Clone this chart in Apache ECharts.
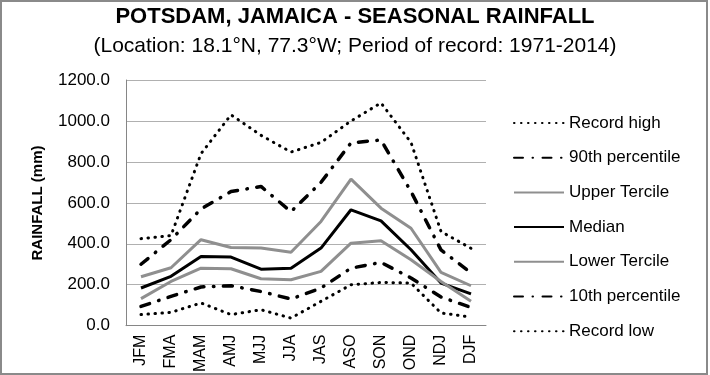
<!DOCTYPE html>
<html><head><meta charset="utf-8">
<script src="https://cdn.jsdelivr.net/npm/echarts@6/dist/echarts.min.js"></script>
<style>html,body{margin:0;padding:0;background:#fff}#c{width:710px;height:375px}</style>
</head><body><div id="c"></div>
<script>
var categories = ['JFM','FMA','MAM','AMJ','MJJ','JJA','JAS','ASO','SON','OND','NDJ','DJF'];
var recordHigh = [425, 440, 840, 1030, 930, 848, 895, 1000, 1088, 895, 460, 378];
var p90 = [300, 420, 570, 655, 680, 557, 700, 893, 907, 655, 370, 258];
var upperTercile = [239, 283, 420, 382, 379, 359, 509, 716, 574, 476, 260, 195];
var median = [184, 241, 338, 335, 276, 281, 379, 566, 512, 371, 208, 155];
var lowerTercile = [132, 216, 281, 278, 229, 224, 265, 403, 415, 322, 216, 119];
var p10 = [94, 143, 189, 195, 167, 130, 184, 281, 309, 233, 140, 89];
var recordLow = [54, 65, 111, 54, 78, 37, 119, 200, 211, 208, 62, 42];
var yTicks = [0, 200, 400, 600, 800, 1000, 1200];

var FONT = 'Liberation Sans';
var dotted = {color:'#000', width:3, type:[0.5,6.5], cap:'round'};
var dashDot = {color:'#000', width:3.5, type:[9,9.5,0.5,9.5], cap:'round'};
var grayLine = {color:'#8f8f8f', width:3};
var blackLine = {color:'#000', width:3};

function mk(name, data, ls){
  return {name:name, type:'line', data:data, symbol:'none', lineStyle:ls, itemStyle:{color:ls.color}, animation:false, silent:true};
}

var chart = echarts.init(document.getElementById('c'), null, {renderer:'canvas'});
chart.setOption({
  animation:false,
  title:[
    {text:'POTSDAM, JAMAICA - SEASONAL RAINFALL', left:'center', top:1,
     textStyle:{fontFamily:FONT, fontSize:22, fontWeight:'bold', color:'#000'}},
    {text:'(Location: 18.1°N, 77.3°W; Period of record: 1971-2014)', left:'center', top:31,
     textStyle:{fontFamily:FONT, fontSize:21, fontWeight:'normal', color:'#000'}}
  ],
  grid:{left:126, right:224, top:80, bottom:48.5, containLabel:false},
  legend:{orient:'vertical', left:508, top:108, itemWidth:50, itemHeight:20, itemGap:14.7,
    itemStyle:{opacity:0},
    textStyle:{fontFamily:FONT, fontSize:17, color:'#000', lineHeight:20},
    data:['Record high','90th percentile','Upper Tercile','Median','Lower Tercile','10th percentile','Record low']},
  xAxis:{type:'category', data:categories, boundaryGap:true,
    axisLine:{lineStyle:{color:'#868686', width:1}}, axisTick:{show:false},
    axisLabel:{rotate:90, fontFamily:FONT, fontSize:16, color:'#000', margin:9}},
  yAxis:{type:'value', min:yTicks[0], max:yTicks[yTicks.length-1], interval:200,
    axisLine:{show:true, lineStyle:{color:'#868686', width:1}}, axisTick:{show:false},
    splitLine:{lineStyle:{color:'#b0b0b0', width:1}},
    axisLabel:{fontFamily:FONT, fontSize:17, color:'#000', margin:16, formatter:function(v){return v.toFixed(1);}}},
  graphic:[
    {type:'rect', shape:{x:1, y:1, width:706, height:373}, style:{fill:'none', stroke:'#8a8a8a', lineWidth:2}, silent:true},
    {type:'text', x:38, y:203, rotation:Math.PI/2,
     style:{text:'RAINFALL (mm)', fontFamily:FONT, fontSize:15, fontWeight:'bold', fill:'#000', align:'center', verticalAlign:'middle'}}
  ],
  series:[
    mk('Record high', recordHigh, dotted),
    mk('90th percentile', p90, dashDot),
    mk('Upper Tercile', upperTercile, grayLine),
    mk('Median', median, blackLine),
    mk('Lower Tercile', lowerTercile, grayLine),
    mk('10th percentile', p10, dashDot),
    mk('Record low', recordLow, dotted)
  ]
});
</script></body></html>
